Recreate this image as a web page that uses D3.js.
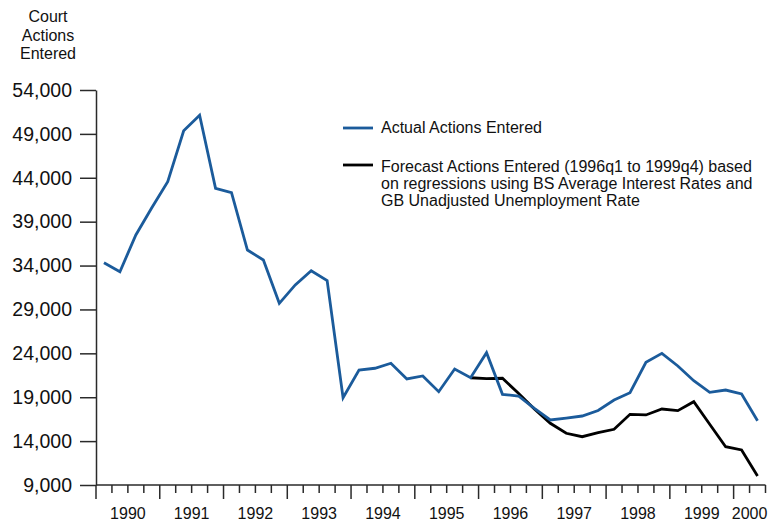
<!DOCTYPE html>
<html>
<head>
<meta charset="utf-8">
<script src="https://cdn.jsdelivr.net/npm/d3@7"></script>
<style>
  html, body { margin: 0; padding: 0; background: #fff; }
  svg { display: block; font-family: "Liberation Sans", Arial, Helvetica, sans-serif; }
</style>
</head>
<body>
<svg id="chart" width="768" height="521"></svg>
<script>
// ---- data ----
const quarters = [
  "1990q1","1990q2","1990q3","1990q4","1991q1","1991q2","1991q3","1991q4",
  "1992q1","1992q2","1992q3","1992q4","1993q1","1993q2","1993q3","1993q4",
  "1994q1","1994q2","1994q3","1994q4","1995q1","1995q2","1995q3","1995q4",
  "1996q1","1996q2","1996q3","1996q4","1997q1","1997q2","1997q3","1997q4",
  "1998q1","1998q2","1998q3","1998q4","1999q1","1999q2","1999q3","1999q4",
  "2000q1","2000q2"
];
const years = ["1990","1991","1992","1993","1994","1995","1996","1997","1998","1999","2000"];
const actual = [
  34330, 33300, 37480, 40590, 43550, 49360, 51120, 42800,
  42300, 35770, 34630, 29700, 31790, 33410, 32280, 18950,
  22100, 22300, 22870, 21080, 21420, 19630, 22220, 21220,
  24070, 19330, 19140, 17740, 16410, 16630, 16860, 17490,
  18680, 19520, 22980, 24000, 22560, 20880, 19560, 19820,
  19370, 16330
];
const forecastQuarters = [
  "1995q4","1996q1","1996q2","1996q3","1996q4","1997q1","1997q2","1997q3","1997q4",
  "1998q1","1998q2","1998q3","1998q4","1999q1","1999q2","1999q3","1999q4","2000q1","2000q2"
];
const forecast = [
  21220, 21110, 21160, 19450, 17660, 16030, 14890, 14500, 14960,
  15350, 17050, 16980, 17660, 17470, 18490, 15920, 13360, 12990, 10030
];
const yTicks = [9000, 14000, 19000, 24000, 29000, 34000, 39000, 44000, 49000, 54000];
const titleLines = ["Court", "Actions", "Entered"];
const legendActual = ["Actual Actions Entered"];
const legendForecast = [
  "Forecast Actions Entered (1996q1 to 1999q4) based",
  "on regressions using BS Average Interest Rates and",
  "GB Unadjusted Unemployment Rate"
];

// ---- layout ----
const blue = "#1b5b9b";
const axisColor = "#2a2a2a";
const textColor = "#111";
const svg = d3.select("#chart");

const x0 = 96, x1 = 765.5, yTop = 90, yBot = 485;
const x = d3.scaleLinear().domain([0, quarters.length]).range([x0, x1]);
const xq = q => x(quarters.indexOf(q) + 0.5);
const y = d3.scaleLinear().domain([9000, 54000]).range([yBot, yTop]);

// title
svg.append("text")
  .attr("x", 48).attr("y", 22)
  .attr("text-anchor", "middle")
  .attr("font-size", 16).attr("fill", textColor)
  .selectAll("tspan").data(titleLines).join("tspan")
  .attr("x", 48).attr("dy", (d, i) => i === 0 ? 0 : 18.7)
  .text(d => d);

// y axis
const yAxis = svg.append("g")
  .attr("transform", `translate(${x0},0)`)
  .call(d3.axisLeft(y).tickValues(yTicks).tickFormat(d3.format(",")).tickSize(16).tickPadding(8).tickSizeOuter(0));
yAxis.select(".domain").attr("stroke", axisColor).attr("stroke-width", 1.5);
yAxis.selectAll(".tick line").attr("stroke", axisColor).attr("stroke-width", 1.5);
yAxis.selectAll(".tick text").attr("font-size", 19.5).attr("fill", textColor)
  .attr("font-family", "'Liberation Sans', Arial, sans-serif");

// x axis: quarter ticks
const qTicks = d3.range(quarters.length + 1);
const xAxis = svg.append("g")
  .attr("transform", `translate(0,${yBot})`);
xAxis.append("line")
  .attr("x1", x0).attr("x2", x1).attr("y1", 0).attr("y2", 0)
  .attr("stroke", axisColor).attr("stroke-width", 1.5);
xAxis.selectAll("line.qt").data(qTicks).join("line")
  .attr("class", "qt")
  .attr("x1", d => x(d)).attr("x2", d => x(d))
  .attr("y1", 0).attr("y2", d => d % 4 === 0 ? 14 : 8)
  .attr("stroke", axisColor).attr("stroke-width", 1.5);
xAxis.selectAll("text.yl").data(years).join("text")
  .attr("class", "yl")
  .attr("x", (d, i) => {
    const s = x(i * 4), e = Math.min(x((i + 1) * 4), x1);
    return (s + e) / 2;
  })
  .attr("y", 34)
  .attr("text-anchor", "middle")
  .attr("font-size", 16).attr("fill", textColor)
  .text(d => d);

// lines
const line = d3.line().x(d => xq(d.q)).y(d => y(d.v));
const actualData = quarters.map((q, i) => ({ q, v: actual[i] }));
const forecastData = forecastQuarters.map((q, i) => ({ q, v: forecast[i] }));

svg.append("path").datum(forecastData)
  .attr("d", line).attr("fill", "none")
  .attr("stroke", "#000").attr("stroke-width", 2.8)
  .attr("stroke-linejoin", "miter");
svg.append("path").datum(actualData)
  .attr("d", line).attr("fill", "none")
  .attr("stroke", blue).attr("stroke-width", 2.8)
  .attr("stroke-linejoin", "miter");

// legend
const lg = svg.append("g");
lg.append("line").attr("x1", 343).attr("x2", 373).attr("y1", 128).attr("y2", 128)
  .attr("stroke", blue).attr("stroke-width", 2.8);
lg.append("text").attr("x", 381).attr("y", 133.2)
  .attr("font-size", 16).attr("fill", textColor).text(legendActual[0]);
lg.append("line").attr("x1", 343).attr("x2", 373).attr("y1", 165).attr("y2", 165)
  .attr("stroke", "#000").attr("stroke-width", 2.8);
lg.append("text").attr("x", 381).attr("y", 171.5)
  .attr("font-size", 16).attr("fill", textColor)
  .selectAll("tspan").data(legendForecast).join("tspan")
  .attr("x", 381).attr("dy", (d, i) => i === 0 ? 0 : 17)
  .text(d => d);
</script>
</body>
</html>
